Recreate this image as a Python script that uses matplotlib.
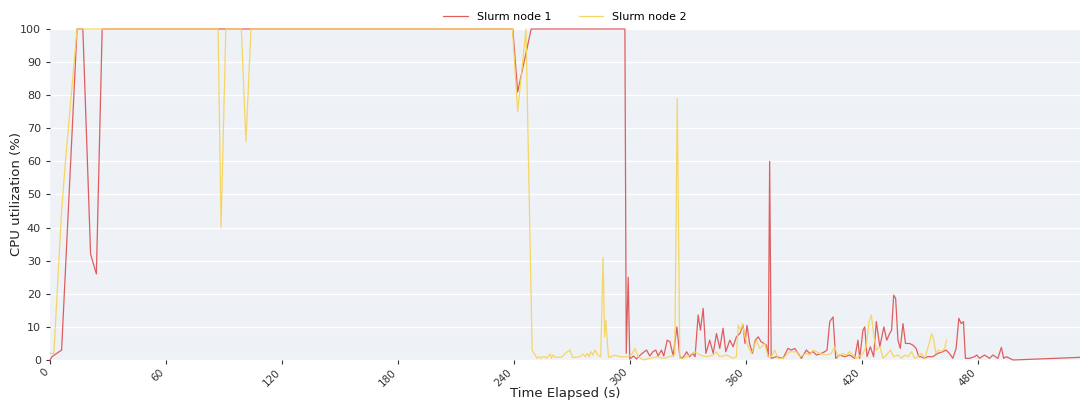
import matplotlib
matplotlib.use("Agg")
import matplotlib.pyplot as plt

# ---- data ----
node1_t = [0, 1, 6, 14, 17, 21, 24, 27, 239.5, 242, 249, 297.5, 298.2, 299.2, 300,
           302, 303.5, 306, 308.7, 310.4, 312, 313.5, 314.7, 316.4, 317.6, 319.4, 320.8, 322.5,
           324.4, 325.9, 327, 328.5, 329.4, 331, 332.5, 333.8, 335.4, 336.6, 338, 339.4,
           341.4, 343.2, 344.9, 346.6, 348.3, 349.7, 351.8, 353.5, 355.2, 357, 358.7, 359.6,
           360.7, 362, 363.5, 365, 366.5, 368, 369.5, 370.7, 371.7, 372.4, 373.2, 375.9,
           379.3, 381.9, 383.6, 385.4, 387.1, 388.8, 391.4, 393.1, 394.9, 396.6, 399.2, 400.9,
           402.1, 403.5, 405.2, 406.6, 408.7, 411.2, 413.8, 416.4, 418.1, 419, 420.7, 421.6,
           422.8, 424.5, 426.2, 427.6, 429.4, 431.5, 433, 434.5, 435.5, 436.6, 437.6, 438.8,
           440, 441.4, 442.7, 444.8, 446.5, 448.2, 449.6, 450.8, 452.5, 454.2, 456.8, 459.4,
           462, 463.7, 465.4, 467.2, 468.9, 470.3, 471.5, 472.7, 473.7, 475.8, 478.4, 479.6,
           481, 483.6, 486.2, 487.9, 490.5, 492.3, 493.5, 494.9, 496.6, 498.4, 533]
node1_v = [0, 1, 3, 100, 100, 32, 26, 100, 100, 81, 100, 100, 2, 25, 0.3,
           1.2, 0.3, 1.8, 3, 1.2, 2.5, 3, 1.2, 3, 1.2, 6, 5.5, 1.2,
           10, 1, 0.5, 1.5, 2.5, 1, 2, 1, 13.6, 9, 15.6, 2,
           6, 2, 8, 3.5, 9.6, 2.5, 6, 4, 7, 8, 10.5, 5,
           10.5, 5, 2, 6, 7, 5.5, 5, 4.5, 1, 60, 0.5, 1,
           0.5, 3.5, 3, 3.5, 2, 0.5, 3, 2, 2.5, 1.5, 2, 2.5,
           3, 11.6, 13, 0.5, 1.5, 1, 1.5, 0.5, 6, 0.5, 9, 10,
           1, 4, 1, 11.6, 4, 10, 6, 8, 9, 19.6, 18.6, 6,
           3.5, 11, 5, 5, 4.5, 3.5, 1, 1, 0.5, 1, 1, 2,
           2.5, 3, 2, 0.5, 3.5, 12.6, 11, 11.6, 0.5, 0.5, 1, 1.5,
           0.5, 1.5, 0.5, 1.5, 0.5, 3.8, 0.5, 1, 0.5, 0, 0.8]

node2_t = [0, 2, 6, 8, 14, 87, 88.5, 91, 99, 101.4, 104, 239.3, 242, 246.3, 249.5,
           251, 252, 253, 254, 255, 256, 257, 258.7, 259.5, 260, 261.5, 263, 265, 267, 269,
           270.5, 272, 274, 276, 277, 278, 279, 280, 281, 282, 283.5, 285, 286.2, 287, 287.6,
           289, 290.5, 292, 294.9, 298.4, 300.9, 302.7, 304.4, 307, 310.4, 313.9, 317.3,
           320.8, 322.5, 323.3, 324.6, 325.9, 327.7, 331.1, 333.7, 336.3, 339.7, 343.2,
           344.9, 346.6, 350.1, 353.5, 355.2, 356.1, 357.3, 358.3, 359.6, 361.3, 363, 365.5,
           367.3, 369.9, 371.6, 373.3, 375, 376.8, 379.3, 382.8, 386.2, 388, 391.4, 393.1,
           394.9, 396.6, 398.3, 401.8, 404.3, 406.1, 407.8, 410.4, 412.1, 413.8, 415.5,
           417.3, 420.7, 422.4, 423.8, 425, 426.2, 427.6, 429.5, 431.1, 432.8, 434.9, 436.6,
           438.9, 440.6, 442.3, 444, 445.8, 447.5, 449.2, 451, 452.7, 454.9, 456.3, 457.3,
           458.4, 459.6, 461.3, 463, 463.9]
node2_v = [2, 2, 45, 60, 100, 100, 40, 100, 100, 66, 100, 100, 75, 100, 3,
           1.5, 0.5, 1, 0.5, 1, 1, 0.5, 1.8, 0.5, 1.5, 0.8, 0.8, 1, 2.2, 3,
           0.8, 0.8, 1, 1.8, 1, 2, 1, 2.5, 1.5, 3, 1.5, 1, 31, 7, 12,
           0.8, 1, 1.5, 1, 1, 1.5, 3.5, 1, 0, 0.5, 1, 0.5,
           1, 1.5, 1.5, 79, 0.5, 0.5, 1.5, 2.5, 1.5, 1, 1.5,
           2.5, 1, 1.5, 0.5, 1, 10.6, 9, 11, 7, 4, 2, 6,
           3.5, 5, 1, 1, 3, 0.5, 0.5, 2.5, 2.5, 1, 2, 1.5,
           3, 2.5, 2, 1.5, 2, 4, 1, 2, 1.5, 2.5, 1.5,
           0.5, 2, 4, 11.6, 13.6, 8, 3, 4, 0.5, 1.5, 3, 1,
           1.5, 0.5, 1.5, 1, 2.5, 0.5, 1, 2, 0.5, 5, 8, 6,
           2, 3, 2.5, 3.5, 6]

series_labels = ["Slurm node 1", "Slurm node 2"]
x_ticks = [0, 60, 120, 180, 240, 300, 360, 420, 480]
y_ticks = [0, 10, 20, 30, 40, 50, 60, 70, 80, 90, 100]

# ---- plot ----
fig = plt.figure(figsize=(10.8, 4.05), dpi=100)
ax = fig.add_axes([50 / 1080, 1 - 360 / 405, 1 - 50 / 1080, (360 - 29) / 405])
ax.set_facecolor("#eef1f6")

ax.plot(node1_t, node1_v, color="#de5656", lw=0.9, alpha=0.95,
        label=series_labels[0], clip_on=False)
ax.plot(node2_t, node2_v, color="#f6d55c", lw=0.9, alpha=0.95,
        label=series_labels[1], clip_on=False)

ax.set_xlim(0, 533)
ax.set_ylim(0, 100)
ax.set_xticks(x_ticks)
ax.set_xticklabels([str(v) for v in x_ticks], rotation=45, ha="right")
ax.set_yticks(y_ticks)
ax.grid(axis="y", color="white", lw=1.0)
ax.grid(axis="x", visible=False)
ax.set_axisbelow(True)
for s in ax.spines.values():
    s.set_visible(False)
ax.tick_params(axis="both", labelsize=8, colors="#333333", length=3, width=0.8)
ax.tick_params(axis="x", labelsize=7.5, pad=2)

ax.set_xlabel("Time Elapsed (s)", fontsize=9.5, color="#222222", labelpad=-1)
ax.set_ylabel("CPU utilization (%)", fontsize=9.5, color="#222222", labelpad=-2)

ax.legend(loc="lower center", bbox_to_anchor=(0.5, 1.0), ncol=2, frameon=False,
          fontsize=8, handlelength=2.2, columnspacing=2.5, borderaxespad=0.2)

fig.savefig("out.png", dpi=100)
